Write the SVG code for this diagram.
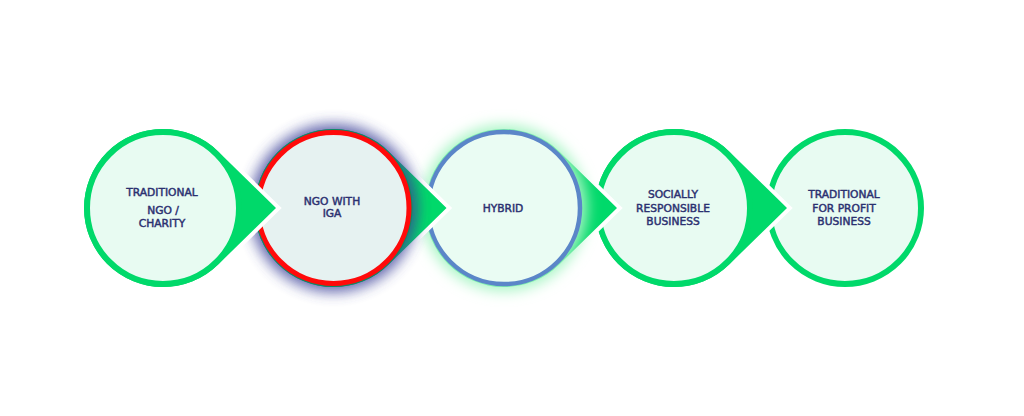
<svg xmlns="http://www.w3.org/2000/svg" width="1024" height="416" viewBox="0 0 1024 416">
  <defs>
    <filter id="glow" x="-40%" y="-40%" width="180%" height="180%">
      <feGaussianBlur stdDeviation="7"/>
    </filter>
    <style>
      .drop { fill: #00d96a; stroke: #ffffff; stroke-width: 8; stroke-linejoin: miter; paint-order: stroke; }
      .ring { fill: #e8fbf2; stroke: #00d96a; stroke-width: 6; }
      .ring2 { fill: #e6f2f1; stroke: #ff0a0a; stroke-width: 5; }
      .ring3 { fill: #eafcf3; stroke: #5b86c8; stroke-width: 4.5; }
      .lbl { font-family: "DejaVu Sans", Verdana, sans-serif; font-size: 10.7px; fill: #2b3070; stroke: #2b3070; stroke-width: 0.45; text-anchor: middle; }
    </style>
  </defs>
  <rect width="1024" height="416" fill="#ffffff"/>
  <g id="connectors"></g>

  <g id="node5">
    <circle class="ring" cx="845" cy="208" r="76"/>
    <text class="lbl" x="844" y="198">TRADITIONAL</text>
    <text class="lbl" x="844" y="212">FOR PROFIT</text>
    <text class="lbl" x="844" y="225">BUSINESS</text>
  </g>

  <g id="node4">
    <path class="drop" d="M787,208 L729.23,151.51 A79,79 0 1 0 729.23,264.49 Z"/>
    <circle class="ring" cx="674" cy="208" r="76"/>
    <text class="lbl" x="673" y="198">SOCIALLY</text>
    <text class="lbl" x="673" y="212">RESPONSIBLE</text>
    <text class="lbl" x="673" y="225">BUSINESS</text>
  </g>

  <g id="node3">
    <path class="drop" d="M617,208 L559.23,151.51 A79,79 0 1 0 559.23,264.49 Z"/>
    <circle cx="504" cy="208" r="83" fill="#a8f5c4" filter="url(#glow)"/>
    <circle class="ring3" cx="504" cy="208" r="76"/>
    <text class="lbl" x="503" y="212">HYBRID</text>
  </g>

  <g id="node2">
    <path class="drop" d="M446.5,208 L388.73,151.51 A79,79 0 1 0 388.73,264.49 Z"/>
    <circle cx="333.5" cy="208" r="84" fill="#3a3f98" opacity="0.8" filter="url(#glow)"/>
    <circle cx="333.5" cy="208" r="79" fill="#0c8a62"/>
    <circle class="ring2" cx="333.5" cy="208" r="75.5"/>
    <text class="lbl" x="332" y="205">NGO WITH</text>
    <text class="lbl" x="332" y="217">IGA</text>
  </g>

  <g id="node1">
    <path class="drop" d="M276,208 L218.23,151.51 A79,79 0 1 0 218.23,264.49 Z"/>
    <circle class="ring" cx="163" cy="208" r="76"/>
    <text class="lbl" x="162" y="196">TRADITIONAL</text>
    <text class="lbl" x="163" y="214">NGO  /</text>
    <text class="lbl" x="162" y="227">CHARITY</text>
  </g>
</svg>
